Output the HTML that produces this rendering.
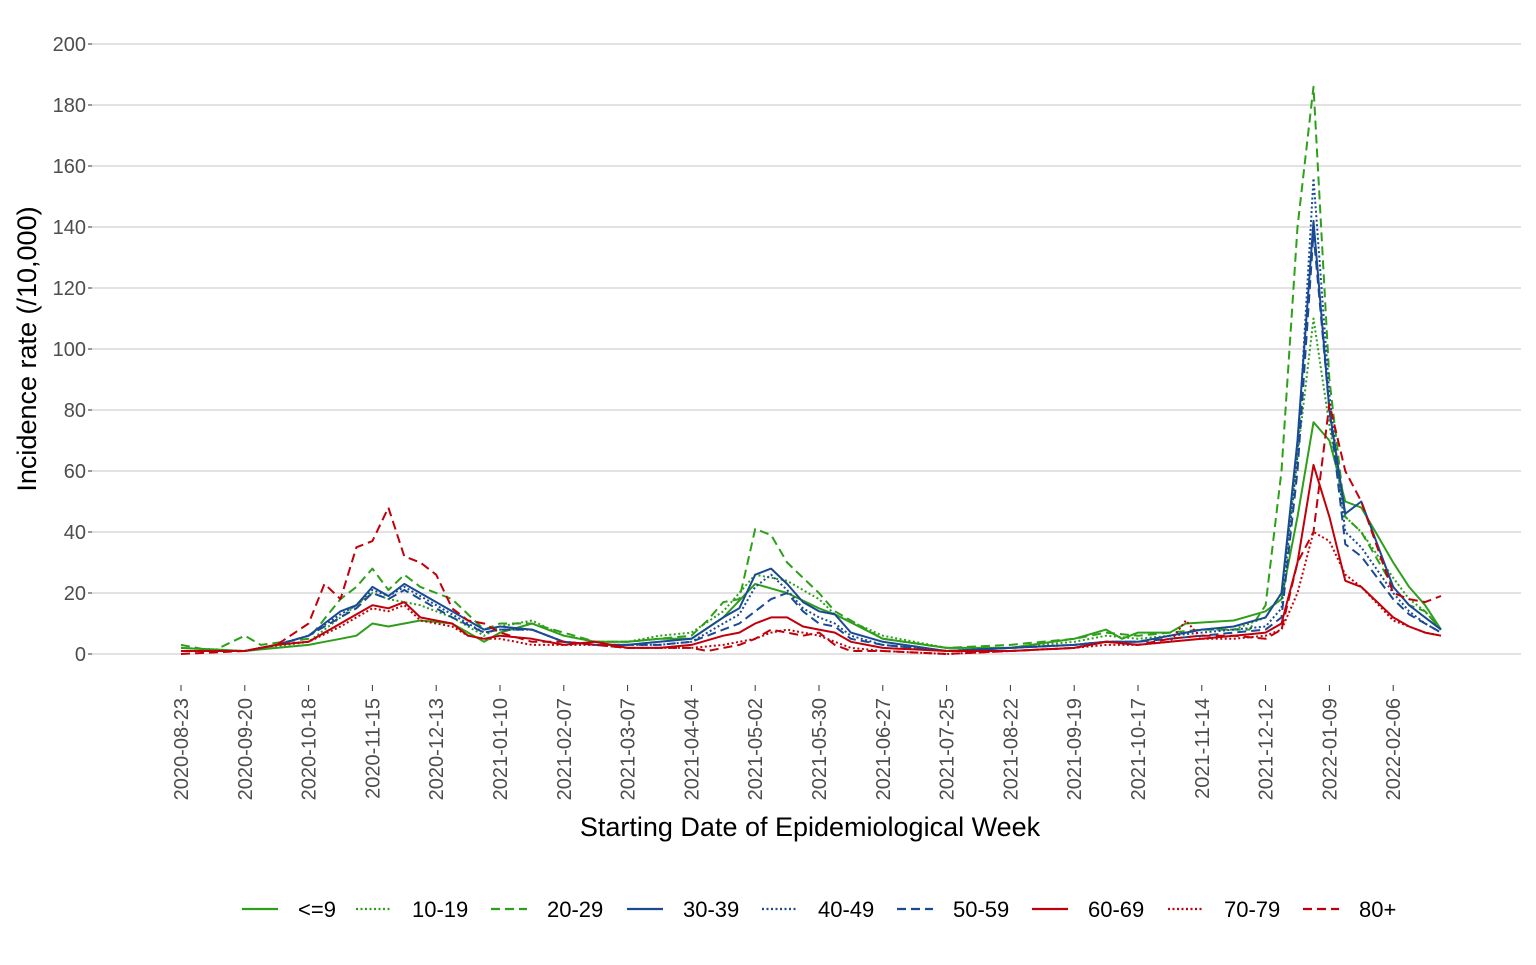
<!DOCTYPE html>
<html><head><meta charset="utf-8"><style>
body{margin:0;background:#fff}
svg text{font-family:"Liberation Sans",Arial,sans-serif}
</style></head><body>
<svg id="s" width="1536" height="960" xmlns="http://www.w3.org/2000/svg"></svg>
<script>
const s=document.getElementById('s');
let h='';
const Y=v=>654-v*3.05, X=w=>181+w*15.95;
for(let v=0;v<=200;v+=20){h+=`<line x1="92" x2="1521" y1="${Y(v)}" y2="${Y(v)}" stroke="#d0d0d0" stroke-width="1.2"/>`;
h+=`<text x="86" y="${Y(v)+7}" text-anchor="end" font-size="20" fill="#4d4d4d">${v}</text><line x1="88" x2="92" y1="${Y(v)}" y2="${Y(v)}" stroke="#333"/>`;}
const labs=["2020-08-23","2020-09-20","2020-10-18","2020-11-15","2020-12-13","2021-01-10","2021-02-07","2021-03-07","2021-04-04","2021-05-02","2021-05-30","2021-06-27","2021-07-25","2021-08-22","2021-09-19","2021-10-17","2021-11-14","2021-12-12","2022-01-09","2022-02-06"];
labs.forEach((l,i)=>{const x=X(i*4);h+=`<line x1="${x}" x2="${x}" y1="685" y2="691" stroke="#333"/><text transform="translate(${x+7},698) rotate(-90)" text-anchor="end" font-size="20" fill="#4d4d4d">${l}</text>`;});
h+=`<text x="810" y="836" text-anchor="middle" font-size="27" fill="#000">Starting Date of Epidemiological Week</text>`;
h+=`<text transform="translate(36,349) rotate(-90)" text-anchor="middle" font-size="27" fill="#000">Incidence rate (/10,000)</text>`;
const G="#2e9f1a",B="#1a4a94",R="#c0000a";
const D={solid:"",dot:"2,2.5",dash:"9,5"};
const ser=[
["<=9",G,"solid",{0:2,4:1,8:3,10:5,11:6,12:10,13:9,15:11,17:10,19:4,20:7,22:10,24:6,26:4,28:4,30:5,32:5,34:12,36:23,38:20,40:15,41:13,44:5,48:2,52:2,56:5,58:8,59:5,60:7,62:7,63:10,66:11,68:14,69:18,70:45,71:76,72:70,73:50,74:48,76:30,77:22,78:16,79:8}],
["10-19",G,"dot",{0:2,4:1,8:4,10:12,11:16,12:20,13:18,15:16,17:12,19:6,20:9,22:11,24:6,26:4,28:4,30:6,32:7,34:14,36:26,38:24,40:18,41:13,44:6,48:2,52:2,56:4,58:6,60:5,62:6,64:8,66:8,68:12,69:20,70:65,71:110,72:75,73:45,74:40,76:25,77:18,78:14,79:8}],
["20-29",G,"dash",{0:3,2:1,4:6,5:3,8:5,10:18,11:22,12:28,13:21,14:26,15:22,17:18,19:8,20:10,22:10,24:7,26:4,28:4,30:5,32:6,33:11,34:17,35:18,36:41,37:39,38:30,39:25,40:20,41:14,44:5,48:2,52:3,56:5,58:7,60:6,62:7,64:8,66:8,67:8,68:16,69:60,70:140,71:186,72:90,73:45,74:40,76:22,77:16,78:14,79:8}],
["30-39",B,"solid",{0:1,4:1,6:3,8:6,10:14,11:16,12:22,13:19,14:23,15:20,17:14,19:8,20:9,22:8,24:4,26:3,28:3,30:4,32:5,34:12,35:15,36:26,37:28,38:23,39:17,40:14,41:13,42:7,44:4,48:1,52:2,56:3,58:4,60:4,62:6,64:8,66:9,68:12,69:20,70:70,71:142,72:80,73:46,74:50,76:22,77:16,78:12,79:8}],
["40-49",B,"dot",{0:1,4:1,6:3,8:6,10:13,11:16,12:21,13:19,14:22,15:19,17:13,19:7,20:8,22:8,24:4,26:3,28:3,30:3,32:4,34:10,35:13,36:22,37:26,38:21,39:15,40:12,41:10,42:6,44:3,48:1,52:2,56:3,58:4,60:4,62:6,64:7,66:8,68:9,69:15,70:65,71:156,72:85,73:40,74:35,76:20,77:14,78:10,79:7}],
["50-59",B,"dash",{0:1,4:1,6:3,8:6,10:12,11:15,12:20,13:18,14:21,15:18,17:12,19:7,20:8,22:8,24:4,26:3,28:3,30:3,32:4,34:8,35:10,36:14,37:18,38:20,39:14,40:10,41:9,42:5,44:3,48:1,52:2,56:3,58:4,60:4,62:5,64:6,66:7,68:8,69:12,70:60,71:138,72:80,73:36,74:32,76:18,77:13,78:10,79:7}],
["60-69",R,"solid",{0:1,4:1,6:3,8:4,10:10,11:13,12:16,13:15,14:17,15:12,17:10,18:6,19:5,20:6,22:5,24:3,26:4,28:2,30:2,32:3,34:6,35:7,36:10,37:12,38:12,39:9,40:8,41:7,42:4,44:2,48:1,52:1,56:2,58:4,60:3,62:4,64:5,66:6,68:7,69:10,70:30,71:62,72:45,73:24,74:22,76:12,77:9,78:7,79:6}],
["70-79",R,"dot",{0:1,4:1,6:3,8:4,10:9,11:12,12:15,13:14,14:16,15:11,17:9,18:6,19:5,20:5,22:3,24:3,26:3,28:2,30:2,32:2,34:3,35:4,36:5,37:7,38:8,39:7,40:6,41:4,42:2,44:1,48:0,52:1,56:2,58:3,60:3,62:4,63:11,64:5,66:5,68:6,69:8,70:20,71:40,72:37,73:26,74:22,76:11,77:9,78:7,79:6}],
["80+",R,"dash",{0:0,4:1,6:3,8:10,9:23,10:18,11:35,12:37,13:48,14:32,15:30,16:26,17:15,18:11,19:10,20:7,22:4,24:4,26:3,28:2,30:2,32:2,33:1,34:2,35:3,36:5,37:8,38:7,39:6,40:7,41:3,42:1,44:1,48:0,52:1,56:2,58:4,60:3,62:5,64:6,66:6,68:5,69:8,70:30,71:40,72:82,73:60,74:50,76:20,77:18,78:17,79:19}]
];
ser.forEach(([n,c,t,k])=>{const ks=Object.keys(k).map(Number).sort((a,b)=>a-b);let p=[];
for(let w=0;w<=79;w++){let i=0;while(i<ks.length-1&&ks[i+1]<w)i++;let a=ks[i],b=ks[Math.min(i+1,ks.length-1)];let v=a==b?k[a]:k[a]+(k[b]-k[a])*(w-a)/(b-a);if(w<=a)v=k[a];p.push(X(w).toFixed(1)+','+Y(v).toFixed(1));}
h+=`<polyline points="${p.join(' ')}" fill="none" stroke="${c}" stroke-width="2" stroke-dasharray="${D[t]}" stroke-linejoin="round"/>`;});
const lx=[242,356,491,627,762,897,1032,1168,1303];
ser.forEach(([n,c,t],i)=>{h+=`<line x1="${lx[i]}" x2="${lx[i]+36}" y1="909" y2="909" stroke="${c}" stroke-width="2.2" stroke-dasharray="${D[t]}"/><text x="${lx[i]+56}" y="917" font-size="22">${n.replace('<','&lt;')}</text>`;});
s.innerHTML=h;
</script>
</body></html>
